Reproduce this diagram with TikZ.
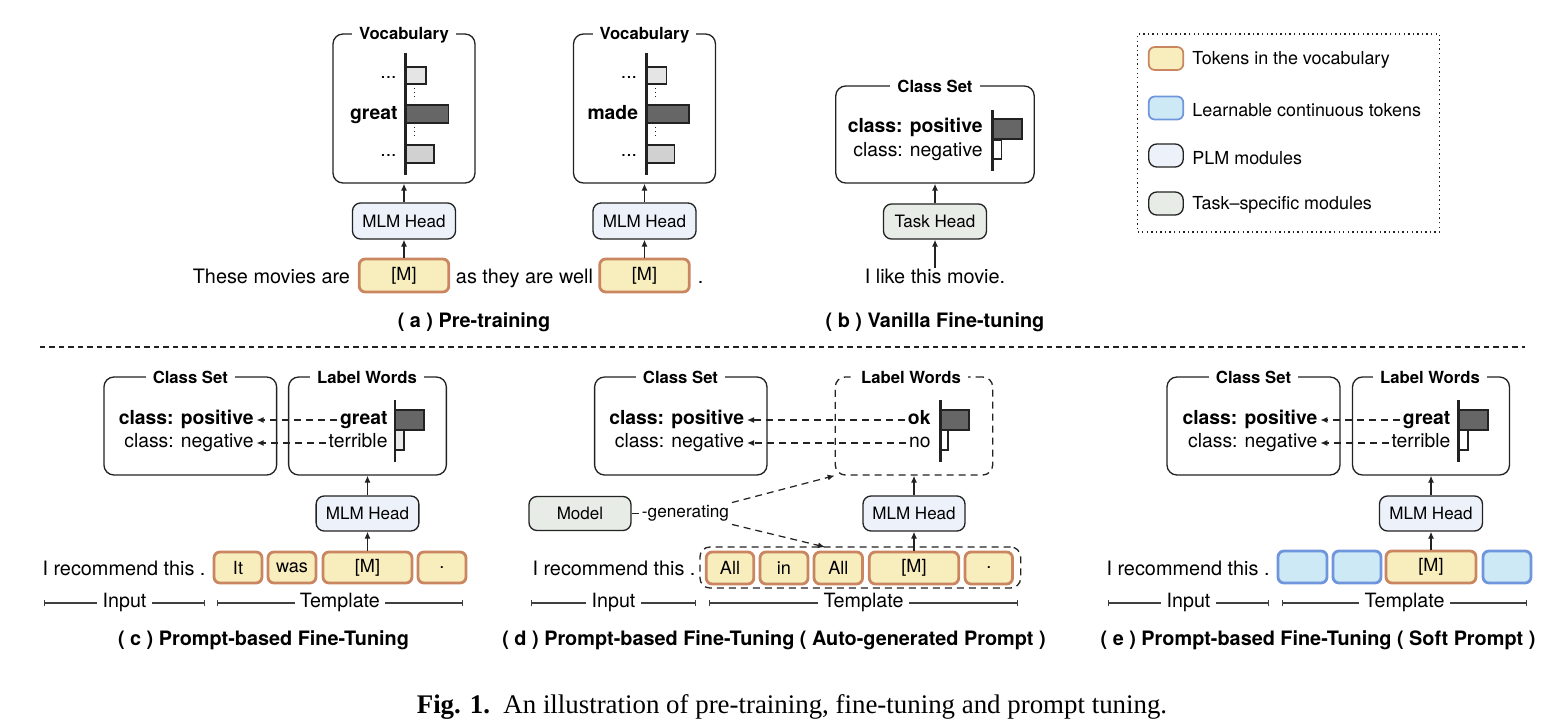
\documentclass[tikz,border=0pt]{standalone}
\usepackage{fontspec}
\setmainfont{TeX Gyre Heros}
\newfontfamily\figfont{Liberation Serif}
\usetikzlibrary{arrows.meta,positioning}
\definecolor{tokfill}{HTML}{F8EDBC}
\definecolor{tokdraw}{HTML}{C98660}
\definecolor{softfill}{HTML}{CDE9F5}
\definecolor{softdraw}{HTML}{6F95DC}
\definecolor{plmfill}{HTML}{EDF2FA}
\definecolor{taskfill}{HTML}{E7ECE7}
\definecolor{ink}{HTML}{222222}
\newcommand{\fsz}[1]{\fontsize{#1}{#1}\selectfont}

\begin{document}
\begin{tikzpicture}[x=0.02cm, y=-0.02cm,
    sz/.style 2 args={minimum width=#1*0.02cm, minimum height=#2*0.02cm, inner sep=0pt},
    boxf/.style={draw=ink, line width=0.75pt, rounded corners=2mm},
    dboxf/.style={boxf, dash pattern=on 1.4mm off 1mm},
    ttl/.style={fill=white, inner xsep=4pt, inner ysep=1pt, font=\fsz{9.5}\bfseries},
    plm/.style={draw=ink, line width=0.75pt, rounded corners=1.6mm, fill=plmfill, font=\fsz{9.7}},
    task/.style={plm, fill=taskfill},
    tok/.style={draw=tokdraw, fill=tokfill, line width=1.6pt, rounded corners=1.2mm, font=\fsz{10.3}},
    soft/.style={tok, draw=softdraw, fill=softfill},
    txt/.style={font=\fsz{11.3}, inner sep=1.5pt, text height=0.72em, text depth=0.2em},
    wrd/.style={font=\fsz{11}, inner sep=1.5pt, text height=0.72em, text depth=0.2em},
    bwrd/.style={wrd, font=\fsz{11}\bfseries},
    capt/.style={font=\fsz{11.3}\bfseries},
    lgd/.style={anchor=west, inner sep=1.5pt, font=\fsz{10.2}},
    arr/.style={-{Latex[length=1.4mm, width=1.2mm]}, line width=0.7pt, draw=ink},
    darr/.style={arr, dash pattern=on 1.4mm off 1mm},
    dln/.style={draw=ink, line width=0.7pt, dash pattern=on 1.4mm off 1mm},
    axl/.style={draw=ink, line width=1.7pt},
    barbox/.style={draw=ink, line width=1.1pt},
    dotl/.style={draw=ink, line width=0.7pt, dash pattern=on 0.7pt off 1.6pt},
    brk/.style={{Bar[width=1.3mm]}-{Bar[width=1.3mm]}, line width=0.7pt, draw=black!75},
    spl/.style={fill=white, font=\fsz{11.2}, inner sep=3pt, text height=0.72em, text depth=0.2em},
  ]
  \useasboundingbox (0, 0) rectangle (1559, 723);

  % (a)
  \node (VO1) [boxf, sz={142}{149}] at (404, 108.5) {};
  \node (VT1) [ttl] at (404, 35) {Vocabulary};
  \filldraw [barbox, fill=black!10] (405.5, 67) rectangle (426, 84);
  \filldraw [barbox, fill=black!60] (405.5, 105) rectangle (448.5, 123);
  \filldraw [barbox, fill=black!18] (405.5, 145) rectangle (434, 163);
  \draw [axl] (405.5, 53) -- (405.5, 175);
  \draw [dotl] (414.8, 88) -- (414.8, 100);
  \draw [dotl] (414.8, 127) -- (414.8, 139);
  \node (DT1) [wrd, anchor=east] at (399.5, 74) {...};
  \node (DB1) [wrd, anchor=east] at (399.5, 152) {...};
  \node (WD1) [bwrd, anchor=east] at (400.5, 115) {great};

  \node (VO2) [boxf, sz={142}{149}] at (644.5, 108.5) {};
  \node (VT2) [ttl] at (644.5, 35) {Vocabulary};
  \filldraw [barbox, fill=black!10] (646, 67) rectangle (666.5, 84);
  \filldraw [barbox, fill=black!60] (646, 105) rectangle (689, 123);
  \filldraw [barbox, fill=black!18] (646, 145) rectangle (674.5, 163);
  \draw [axl] (646, 53) -- (646, 175);
  \draw [dotl] (655.3, 88) -- (655.3, 100);
  \draw [dotl] (655.3, 127) -- (655.3, 139);
  \node (DT2) [wrd, anchor=east] at (640, 74) {...};
  \node (DB2) [wrd, anchor=east] at (640, 152) {...};
  \node (WD2) [bwrd, anchor=east] at (641, 115) {made};

  \node (HD1) [plm, sz={103}{36}] at (404, 221) {MLM Head};
  \node (HD2) [plm, sz={103}{36}] at (644.5, 221) {MLM Head};
  \node (MK1) [tok, sz={89.6}{33}] at (404, 275.5) {[M]};
  \node (MK2) [tok, sz={89.6}{33}] at (644.5, 275.5) {[M]};
  \node (SE1) [txt, anchor=east] at (353, 279) {These movies are};
  \node (SE2) [txt, anchor=west] at (453, 279) {as they are well};
  \node (SE3) [txt, anchor=west] at (695, 279) {.};
  \draw [arr] (MK1) -- (HD1);
  \draw [arr] (HD1) -- (VO1);
  \draw [arr] (MK2) -- (HD2);
  \draw [arr] (HD2) -- (VO2);
  \node (CPa) [capt] at (474, 322) {( a ) Pre-training};

  % (b)
  \node (CSb) [boxf, sz={198.5}{97}] at (935, 134.5) {};
  \node (CTb) [ttl] at (935, 86) {Class Set};
  \filldraw [barbox, fill=black!60] (992, 119) rectangle (1022, 139);
  \filldraw [barbox, fill=white] (992, 140) rectangle (1001.5, 159);
  \draw [axl] (992, 110) -- (992, 171);
  \node (POb) [bwrd, anchor=east] at (985.5, 128) {class: positive};
  \node (NEb) [wrd, anchor=east] at (985.5, 152) {class: negative};
  \node (HDb) [task, sz={103}{35}] at (935, 221.5) {Task Head};
  \node (SEb) [txt] at (935, 279) {I like this movie.};
  \draw [arr] (SEb) -- (HDb);
  \draw [arr] (HDb) -- (CSb);
  \node (CPb) [capt] at (935, 322) {( b ) Vanilla Fine-tuning};

  % legend
  \node (LG) [draw=ink, line width=0.8pt, dash pattern=on 0.8pt off 1.8pt, sz={302}{198}] at (1288.5, 133) {};
  \node (LG1) [tok, line width=1pt, sz={34.5}{23}] at (1166, 58.5) {};
  \node (LG2) [soft, line width=1pt, sz={34.5}{23}] at (1166, 108) {};
  \node (LG3) [plm, sz={34.5}{23}] at (1166, 155.5) {};
  \node (LG4) [task, sz={34.5}{23}] at (1166, 203.5) {};
  \node (LX1) [lgd] at (1189.5, 60) {Tokens in the vocabulary};
  \node (LX2) [lgd] at (1189.5, 110) {Learnable continuous tokens};
  \node (LX3) [lgd] at (1189.5, 158) {PLM modules};
  \node (LX4) [lgd] at (1189.5, 205) {Task\textendash specific modules};

  \coordinate (SPL) at (40, 347);
  \coordinate (SPR) at (1525, 347);
  \draw [draw=ink, line width=0.6pt, dash pattern=on 1.1mm off 0.8mm] (SPL) -- (SPR);

  % (c)
  \node (CSc) [boxf, sz={172.7}{98}] at (190.3, 426) {};
  \node (CTc) [ttl] at (190.3, 377) {Class Set};
  \node (LWc) [boxf, sz={157.7}{98}] at (367.5, 426) {};
  \node (LTc) [ttl] at (367, 377) {Label Words};
  \filldraw [barbox, fill=black!60] (395, 410) rectangle (424, 430);
  \filldraw [barbox, fill=black!8] (395, 430) rectangle (404, 450);
  \draw [axl] (395, 400) -- (395, 462);
  \node (POc) [bwrd, anchor=east] at (256.5, 420) {class: positive};
  \node (NEc) [wrd, anchor=east] at (256.5, 443) {class: negative};
  \node (WPc) [bwrd, anchor=east] at (390.5, 420) {great};
  \node (WNc) [wrd, anchor=east] at (390.5, 443) {terrible};
  \draw [darr] (WPc) -- (POc);
  \draw [darr] (WNc) -- (NEc);
  \node (HDc) [plm, sz={102.7}{35}] at (367.5, 513.5) {MLM Head};
  \node (Tc1) [tok, sz={48}{31}] at (238, 567.5) {It};
  \node (Tc2) [tok, sz={48}{31}] at (292, 567.5) {was};
  \node (Tc3) [tok, sz={89}{31}] at (367.5, 567.5) {[M]};
  \node (Tc4) [tok, sz={48}{31}] at (442, 567.5) {.};
  \draw [arr] (Tc3) -- (HDc);
  \draw [arr] (HDc) -- (LWc);
  \node (SEc) [txt, anchor=east] at (208.5, 571) {I recommend this .};
  \coordinate (ILc) at (44, 603);
  \coordinate (IRc) at (205, 603);
  \coordinate (TLc) at (216.7, 603);
  \coordinate (TRc) at (463, 603);
  \draw [brk] (ILc) -- node (INc) [spl] {Input} (IRc);
  \draw [brk] (TLc) -- node (TPc) [spl] {Template} (TRc);
  \node (CPc) [capt] at (263.5, 640) {( c ) Prompt-based Fine-Tuning};

  % (d)
  \node (CSd) [boxf, sz={172.4}{98}] at (680.8, 426) {};
  \node (CTd) [ttl] at (680.5, 377) {Class Set};
  \node (LWd) [dboxf, sz={157.4}{98}] at (914, 426) {};
  \node (LTd) [ttl] at (911, 377) {Label Words};
  \filldraw [barbox, fill=black!60] (940, 410) rectangle (969, 430);
  \filldraw [barbox, fill=white] (940, 430) rectangle (948, 450);
  \draw [axl] (940, 400) -- (940, 462);
  \node (POd) [bwrd, anchor=east] at (747, 420) {class: positive};
  \node (NEd) [wrd, anchor=east] at (747, 443) {class: negative};
  \node (WPd) [bwrd, anchor=east] at (933.5, 420) {ok};
  \node (WNd) [wrd, anchor=east] at (933.5, 443) {no};
  \draw [darr] (WPd) -- (POd);
  \draw [darr] (WNd) -- (NEd);
  \node (HDd) [plm, sz={102}{35}] at (914, 513.5) {MLM Head};
  \node (MOd) [task, sz={102}{34}] at (580, 513.5) {Model};
  \node (GNd) [anchor=west, inner sep=1.5pt, font=\fsz{9.8}] at (639, 513.5) {-generating};
  \draw [dln] (MOd) -- (GNd);
  \node (TBd) [dboxf, sz={320.7}{41}] at (860.3, 567.5) {};
  \coordinate (TGd) at (825, 547);
  \draw [darr] (GNd.north east) -- (LWd.south west);
  \draw [darr] (GNd.south east) -- (TGd);
  \node (Td1) [tok, sz={47.6}{32}] at (730, 568) {All};
  \node (Td2) [tok, sz={48}{32}] at (784, 568) {in};
  \node (Td3) [tok, sz={48.5}{32}] at (838.3, 568) {All};
  \node (Td4) [tok, sz={89.4}{32}] at (914, 568) {[M]};
  \node (Td5) [tok, sz={47.5}{32}] at (988.8, 568) {.};
  \draw [arr] (Td4) -- (HDd);
  \draw [arr] (HDd) -- (LWd);
  \node (SEd) [txt, anchor=east] at (698.5, 571) {I recommend this .};
  \coordinate (ILd) at (531, 603);
  \coordinate (IRd) at (696, 603);
  \coordinate (TLd) at (709, 603);
  \coordinate (TRd) at (1018, 603);
  \draw [brk] (ILd) -- node (INd) [spl] {Input} (IRd);
  \draw [brk] (TLd) -- node (TPd) [spl] {Template} (TRd);
  \node (CPd) [capt] at (774, 640) {( d ) Prompt-based Fine-Tuning ( Auto-generated Prompt )};

  % (e)
  \node (CSe) [boxf, sz={173}{98}] at (1253.5, 426) {};
  \node (CTe) [ttl] at (1253.5, 377) {Class Set};
  \node (LWe) [boxf, sz={157}{98}] at (1431, 426) {};
  \node (LTe) [ttl] at (1430, 377) {Label Words};
  \filldraw [barbox, fill=black!60] (1458, 410) rectangle (1488, 430);
  \filldraw [barbox, fill=white] (1458, 430) rectangle (1468, 450);
  \draw [axl] (1458, 400) -- (1458, 462);
  \node (POe) [bwrd, anchor=east] at (1320.3, 420) {class: positive};
  \node (NEe) [wrd, anchor=east] at (1320.3, 443) {class: negative};
  \node (WPe) [bwrd, anchor=east] at (1453.3, 420) {great};
  \node (WNe) [wrd, anchor=east] at (1453.3, 443) {terrible};
  \draw [darr] (WPe) -- (POe);
  \draw [darr] (WNe) -- (NEe);
  \node (HDe) [plm, sz={103}{35}] at (1431, 513.5) {MLM Head};
  \node (Te1) [soft, sz={49}{32}] at (1302.5, 567) {};
  \node (Te2) [soft, sz={48}{32}] at (1357, 567) {};
  \node (Te3) [tok, sz={90}{32}] at (1431, 567) {[M]};
  \node (Te4) [soft, sz={48}{32}] at (1507, 567) {};
  \draw [arr] (Te3) -- (HDe);
  \draw [arr] (HDe) -- (LWe);
  \node (SEe) [txt, anchor=east] at (1272.5, 571) {I recommend this .};
  \coordinate (ILe) at (1108, 603);
  \coordinate (IRe) at (1269, 603);
  \coordinate (TLe) at (1282, 603);
  \coordinate (TRe) at (1527, 603);
  \draw [brk] (ILe) -- node (INe) [spl] {Input} (IRe);
  \draw [brk] (TLe) -- node (TPe) [spl] {Template} (TRe);
  \node (CPe) [capt] at (1318, 640) {( e ) Prompt-based Fine-Tuning ( Soft Prompt )};

  \node (FIG) [font=\figfont\fsz{15.3}] at (792, 707) {\textbf{Fig. 1.}\enspace An illustration of pre-training, fine-tuning and prompt tuning.};
\end{tikzpicture}
\end{document}
